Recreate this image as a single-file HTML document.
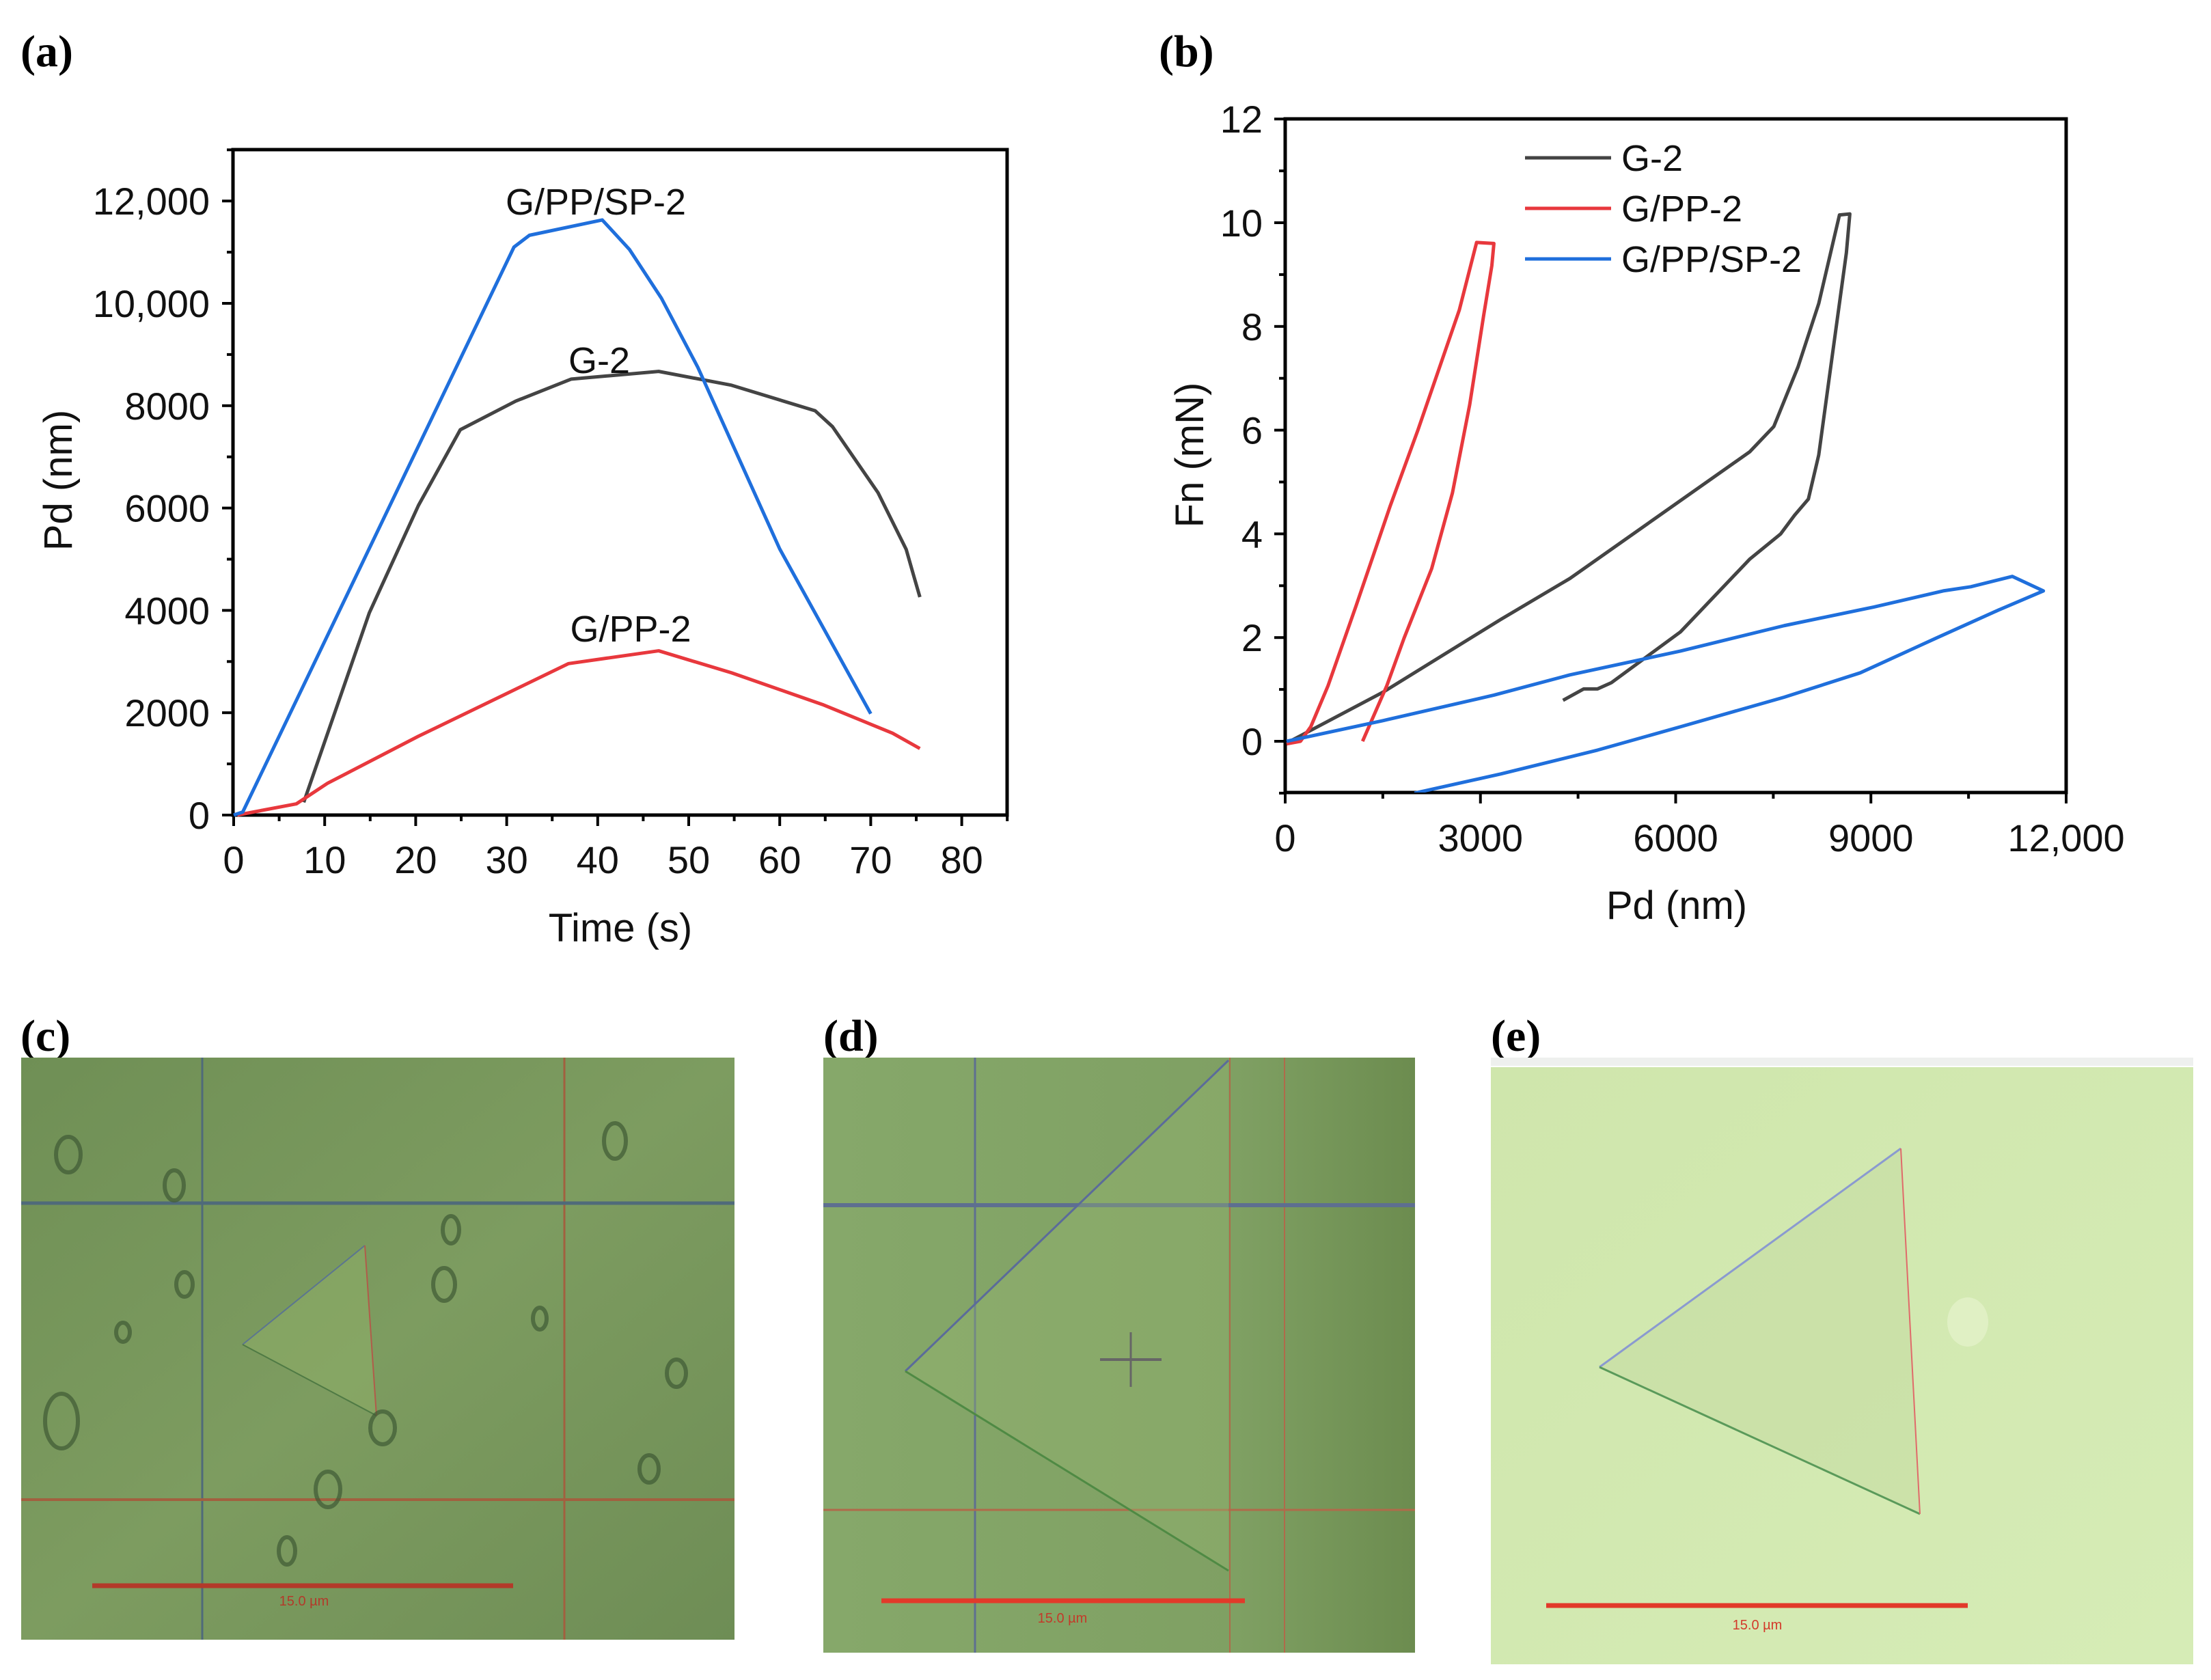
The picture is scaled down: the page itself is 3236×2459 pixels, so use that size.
<!DOCTYPE html>
<html><head><meta charset="utf-8"><style>
html,body{margin:0;padding:0;background:#fff;}
svg{display:block;font-family:"Liberation Sans",sans-serif;}
</style></head><body>
<svg id="fig" width="3236" height="2459" viewBox="0 0 3236 2459" xmlns="http://www.w3.org/2000/svg">
<rect width="3236" height="2459" fill="#fff"/>
<g font-family="Liberation Serif,serif" font-size="66" font-weight="bold" fill="#000">
<text x="30" y="97">(a)</text>
<text x="1696" y="97">(b)</text>
<text x="30" y="1538">(c)</text>
<text x="1205" y="1538">(d)</text>
<text x="2182" y="1538">(e)</text>
</g>
<g id="chartA"></g>
<g id="chartB"></g>

<g>
<defs>
<linearGradient id="gc" x1="0" y1="0" x2="1" y2="1"><stop offset="0" stop-color="#6f8f55"/><stop offset="0.5" stop-color="#7d9c60"/><stop offset="1" stop-color="#6e8d55"/></linearGradient>
<linearGradient id="gd" x1="0" y1="0" x2="1" y2="0"><stop offset="0" stop-color="#86a86a"/><stop offset="0.7" stop-color="#7fa063"/><stop offset="1" stop-color="#6c8c4f"/></linearGradient>
<linearGradient id="ge" x1="0" y1="0" x2="1" y2="1"><stop offset="0" stop-color="#cfe6ac"/><stop offset="1" stop-color="#d6ecb6"/></linearGradient>
</defs>
<rect x="31" y="1548" width="1044" height="852" fill="url(#gc)"/>
<line x1="296" y1="1548" x2="296" y2="2400" stroke="#4f6a7a" stroke-width="3"/>
<line x1="826" y1="1548" x2="826" y2="2400" stroke="#a2603f" stroke-width="3"/>
<line x1="31" y1="1761" x2="1075" y2="1761" stroke="#4f6a7a" stroke-width="5"/>
<line x1="31" y1="2195" x2="1075" y2="2195" stroke="#a2603f" stroke-width="4"/>
<polygon points="355,1968 534,1823 551,2072" fill="#8fb067" opacity="0.5"/>
<line x1="355" y1="1968" x2="534" y2="1823" stroke="#5b7590" stroke-width="2"/>
<line x1="355" y1="1968" x2="551" y2="2072" stroke="#4f7a44" stroke-width="2"/>
<line x1="534" y1="1823" x2="551" y2="2072" stroke="#b05c4a" stroke-width="2"/>
<line x1="135" y1="2321" x2="751" y2="2321" stroke="#b33a2a" stroke-width="7"/>
<text x="445" y="2350" font-size="20" fill="#b33a2a" text-anchor="middle">15.0 µm</text>
<g fill="none" stroke="#3f5a35" stroke-width="6" opacity="0.7">
<ellipse cx="100" cy="1690" rx="18" ry="26"/><ellipse cx="255" cy="1735" rx="14" ry="22"/><ellipse cx="900" cy="1670" rx="16" ry="26"/><ellipse cx="660" cy="1800" rx="12" ry="20"/><ellipse cx="650" cy="1880" rx="16" ry="24"/><ellipse cx="560" cy="2090" rx="18" ry="24"/><ellipse cx="990" cy="2010" rx="14" ry="20"/><ellipse cx="480" cy="2180" rx="18" ry="26"/><ellipse cx="90" cy="2080" rx="24" ry="40"/><ellipse cx="950" cy="2150" rx="14" ry="20"/><ellipse cx="270" cy="1880" rx="12" ry="18"/><ellipse cx="790" cy="1930" rx="10" ry="16"/><ellipse cx="180" cy="1950" rx="10" ry="14"/><ellipse cx="420" cy="2270" rx="12" ry="20"/>
</g>
</g>
<g>
<rect x="1205" y="1548" width="866" height="871" fill="url(#gd)"/>
<line x1="1427" y1="1548" x2="1427" y2="2419" stroke="#5e6f90" stroke-width="3"/>
<line x1="1800" y1="1548" x2="1800" y2="2419" stroke="#b06a4a" stroke-width="2"/>
<line x1="1880" y1="1548" x2="1880" y2="2419" stroke="#b06a4a" stroke-width="2"/>
<line x1="1205" y1="1764" x2="2071" y2="1764" stroke="#5e6f90" stroke-width="6"/>
<line x1="1205" y1="2210" x2="2071" y2="2210" stroke="#b06a4a" stroke-width="3"/>
<polygon points="1325,2007 1798,1552 1798,2299" fill="#98b873" opacity="0.35"/>
<line x1="1325" y1="2007" x2="1798" y2="1552" stroke="#5b6b9a" stroke-width="3"/>
<line x1="1325" y1="2007" x2="1798" y2="2299" stroke="#4f8a44" stroke-width="3"/>
<line x1="1610" y1="1990" x2="1700" y2="1990" stroke="#666" stroke-width="4"/>
<line x1="1655" y1="1950" x2="1655" y2="2030" stroke="#666" stroke-width="3"/>
<line x1="1290" y1="2343" x2="1822" y2="2343" stroke="#e23a2a" stroke-width="7"/>
<text x="1555" y="2375" font-size="20" fill="#c33a2a" text-anchor="middle">15.0 µm</text>
</g>
<g>
<rect x="2182" y="1548" width="1028" height="12" fill="#eef0ee"/>
<rect x="2182" y="1562" width="1028" height="874" fill="url(#ge)"/>
<polygon points="2341,2001 2782,1681 2810,2216" fill="#c3daa0" opacity="0.5"/>
<line x1="2341" y1="2001" x2="2782" y2="1681" stroke="#8a9ad0" stroke-width="3"/>
<line x1="2341" y1="2001" x2="2810" y2="2216" stroke="#5a9a5a" stroke-width="3"/>
<line x1="2782" y1="1681" x2="2810" y2="2216" stroke="#e06a6a" stroke-width="2"/>
<ellipse cx="2880" cy="1935" rx="30" ry="36" fill="#e0f0c4"/>
<line x1="2263" y1="2350" x2="2880" y2="2350" stroke="#e23a2a" stroke-width="7"/>
<text x="2572" y="2385" font-size="20" fill="#d33a2a" text-anchor="middle">15.0 µm</text>
</g>
</svg>
<script>
// ---------- Chart A data ----------
const aXTicks = [0,10,20,30,40,50,60,70,80];
const aYTicks = [0,2000,4000,6000,8000,10000,12000];
const aYTickLabels = ["0","2000","4000","6000","8000","10,000","12,000"];
const aBlueT = [0,1,30.8,32.5,40.5,43.5,47,51,60,70];
const aBlueV = [0,60,11100,11330,11630,11050,10100,8750,5200,1980];
const aGrayT = [7.7,14.9,20.3,24.9,31,37.1,46.7,54.7,63.9,65.8,70.8,73.9,74.7,75.4];
const aGrayV = [250,3950,6050,7530,8090,8520,8670,8400,7900,7590,6300,5190,4690,4260];
const aRedT = [0.4,6.9,10.3,20.3,36.8,46.7,54.7,64.7,72.4,75.4];
const aRedV = [0,220,620,1540,2960,3210,2780,2160,1600,1300];
// ---------- Chart B data ----------
const bXTicks = [0,3000,6000,9000,12000];
const bXTickLabels = ["0","3000","6000","9000","12,000"];
const bYTicks = [0,2,4,6,8,10,12];
const bGrayX = [74,1508,3313,4375,7136,7508,7880,8198,8517,8676,8623,8410,8198,8039,7827,7614,7136,6074,5012,4800,4588,4269];
const bGrayY = [0,0.95,2.35,3.14,5.58,6.07,7.22,8.44,10.15,10.17,9.42,7.47,5.52,4.67,4.36,4.0,3.51,2.11,1.13,1.01,1.01,0.79];
const bRedX = [21,234,393,658,1083,1614,2039,2676,2941,3207,3175,3048,2835,2570,2251,1827,1561,1189];
const bRedY = [-0.05,0,0.28,1.07,2.59,4.54,6.0,8.32,9.62,9.6,9.17,8.2,6.49,4.79,3.33,1.99,1.07,0];
const bBlueX = [21,1508,3207,4375,6074,7667,9048,10110,10535,11172,11650,10960,10004,8836,7667,6074,4800,3313,1986];
const bBlueY = [0,0.4,0.89,1.28,1.74,2.23,2.59,2.9,2.98,3.18,2.9,2.53,1.99,1.32,0.85,0.28,-0.17,-0.63,-1.0];

const NS="http://www.w3.org/2000/svg";
function mk(parent,tag,attrs){const e=document.createElementNS(NS,tag);for(const k in attrs)e.setAttribute(k,attrs[k]);parent.appendChild(e);return e;}
function txt(parent,x,y,s,size,anchor,extra){const t=mk(parent,'text',Object.assign({x:x,y:y,'font-size':size,'text-anchor':anchor,fill:'#111'},extra||{}));t.textContent=s;return t;}

(function(){
 const g=document.getElementById('chartA');
 const L=341,R=1474,T=219,B=1193;
 const xs=t=>342+t*13.32, ys=v=>1193-v*0.0749;
 const frame=mk(g,'rect',{x:L,y:T,width:R-L,height:B-T,fill:'none',stroke:'#000','stroke-width':5});
 
 
 for(let t=0;t<=85;t+=5){const major=t%10===0;const l=mk(g,'line',{x1:xs(t),x2:xs(t),y1:B,y2:B+(major?16:9),stroke:'#000','stroke-width':4});
  
  }
 aXTicks.forEach(t=>{const e=txt(g,xs(t),1278,String(t),56,'middle');
  
  });
 for(let v=0;v<=13000;v+=1000){const major=v%2000===0;const l=mk(g,'line',{x1:L,x2:L-(major?16:9),y1:ys(v),y2:ys(v),stroke:'#000','stroke-width':4});
  
  }
 aYTicks.forEach((v,i)=>{const e=txt(g,307,ys(v)+20,aYTickLabels[i],56,'end');
  
  });
 const xt=txt(g,908,1378,'Time (s)',58,'middle');
 
 
 const yt=txt(g,0,0,'Pd (nm)',58,'middle',{transform:'translate(105,703) rotate(-90)'});
 
 
 function series(T_,V_,col,name){const p=mk(g,'polyline',{points:T_.map((t,i)=>xs(t)+','+ys(V_[i])).join(' '),fill:'none',stroke:col,'stroke-width':5,'stroke-linejoin':'round'});
  
  }
 series(aGrayT,aGrayV,'#444','series-g2-a');
 series(aRedT,aRedV,'#e8383d','series-gpp2-a');
 series(aBlueT,aBlueV,'#1f6fdc','series-gppsp2-a');
 const a1=txt(g,872,314,'G/PP/SP-2',54,'middle');
 
 
 const a2=txt(g,877,546,'G-2',54,'middle');
 
 
 const a3=txt(g,923,939,'G/PP-2',54,'middle');
 
 
})();

(function(){
 const g=document.getElementById('chartB');
 const L=1881,R=3024,T=174,B=1160;
 const xs=x=>1881+x*(1143/12000), ys=y=>1085-y*75.9;
 mk(g,'defs',{}).innerHTML='<clipPath id="clipB"><rect x="1881" y="174" width="1143" height="986"/></clipPath>';
 const frame=mk(g,'rect',{x:L,y:T,width:R-L,height:B-T,fill:'none',stroke:'#000','stroke-width':5});
 
 
 for(let x=0;x<=12000;x+=1500){const major=x%3000===0;const l=mk(g,'line',{x1:xs(x),x2:xs(x),y1:B,y2:B+(major?16:9),stroke:'#000','stroke-width':4});
  
  }
 bXTicks.forEach((x,i)=>{const e=txt(g,xs(x),1246,bXTickLabels[i],56,'middle');
  
  });
 for(let y=-1;y<=12;y+=1){const major=y%2===0;const l=mk(g,'line',{x1:L,x2:L-(major?16:9),y1:ys(y),y2:ys(y),stroke:'#000','stroke-width':4});
  
  }
 bYTicks.forEach(y=>{const e=txt(g,1848,ys(y)+20,String(y),56,'end');
  
  });
 const xt=txt(g,2454,1345,'Pd (nm)',58,'middle');
 
 
 const yt=txt(g,0,0,'Fn (mN)',58,'middle',{transform:'translate(1761,666) rotate(-90)'});
 
 
 function series(X,Y,col,name){const p=mk(g,'polyline',{points:X.map((x,i)=>xs(x)+','+ys(Y[i])).join(' '),fill:'none',stroke:col,'stroke-width':5,'stroke-linejoin':'round','clip-path':'url(#clipB)'});
  
  }
 series(bGrayX,bGrayY,'#444','series-g2-b');
 series(bRedX,bRedY,'#e8383d','series-gpp2-b');
 series(bBlueX,bBlueY,'#1f6fdc','series-gppsp2-b');
 const leg=[['G-2','#444',231],['G/PP-2','#e8383d',305],['G/PP/SP-2','#1f6fdc',379]];
 leg.forEach(([n,c,y])=>{
  const l=mk(g,'line',{x1:2232,x2:2358,y1:y,y2:y,stroke:c,'stroke-width':5});
  
  
  const t=txt(g,2373,y+19,n,54,'start');
  
  
 });
})();
</script>
</body></html>
